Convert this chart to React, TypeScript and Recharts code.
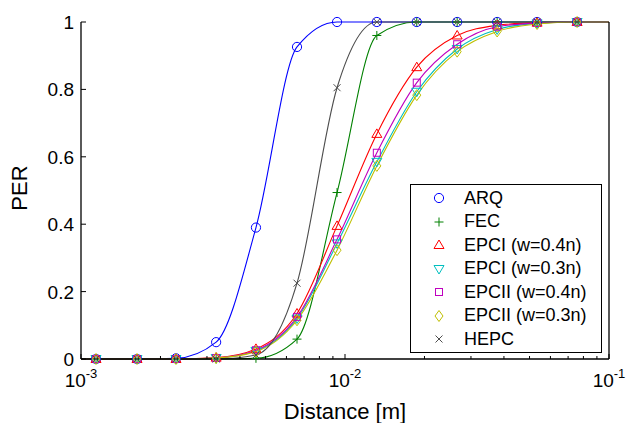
import { LineChart, Line, XAxis, YAxis } from 'recharts';

// distance [m]; first and last entries are where the fitted curves meet the axes (no marker there)
const distance = [0.001, 0.00114, 0.00163, 0.00229, 0.00325, 0.0046, 0.00658, 0.00933, 0.0132, 0.0187, 0.0266, 0.0377, 0.0534, 0.0757, 0.1];

const arq = [0, 0, 0, 0.002, 0.05, 0.39, 0.926, 1, 1, 1, 1, 1, 1, 1, 1];
const fec = [0, 0, 0, 0, 0, 0.002, 0.059, 0.494, 0.96, 1, 1, 1, 1, 1, 1];
const epci4 = [0, 0, 0, 0, 0.004, 0.03, 0.135, 0.395, 0.668, 0.866, 0.96, 0.99, 0.998, 1, 1];
const epci3 = [0, 0, 0, 0, 0.003, 0.024, 0.12, 0.343, 0.585, 0.793, 0.92, 0.978, 0.996, 1, 1];
const epcii4 = [0, 0, 0, 0, 0.003, 0.026, 0.125, 0.355, 0.612, 0.82, 0.934, 0.986, 0.997, 1, 1];
const epcii3 = [0, 0, 0, 0, 0.003, 0.022, 0.115, 0.323, 0.573, 0.783, 0.912, 0.972, 0.994, 1, 1];
const hepc = [0, 0, 0, 0, 0, 0.012, 0.225, 0.805, 1, 1, 1, 1, 1, 1, 1];

const xTicks = [
  0.001, 0.002, 0.003, 0.004, 0.005, 0.006, 0.007, 0.008, 0.009,
  0.01, 0.02, 0.03, 0.04, 0.05, 0.06, 0.07, 0.08, 0.09, 0.1,
];
const xMajor = [0.001, 0.01, 0.1];
const xMajorExp = ['-3', '-2', '-1'];
const yTicks = [0, 0.2, 0.4, 0.6, 0.8, 1];

type Shape = 'circle' | 'plus' | 'up' | 'down' | 'square' | 'diamond' | 'x';

const SERIES: { key: string; name: string; color: string; shape: Shape; values: number[] }[] = [
  { key: 'arq', name: 'ARQ', color: '#0000ff', shape: 'circle', values: arq },
  { key: 'fec', name: 'FEC', color: '#008000', shape: 'plus', values: fec },
  { key: 'epci4', name: 'EPCI (w=0.4n)', color: '#ff0000', shape: 'up', values: epci4 },
  { key: 'epci3', name: 'EPCI (w=0.3n)', color: '#00bfbf', shape: 'down', values: epci3 },
  { key: 'epcii4', name: 'EPCII (w=0.4n)', color: '#bf00bf', shape: 'square', values: epcii4 },
  { key: 'epcii3', name: 'EPCII (w=0.3n)', color: '#bfbf00', shape: 'diamond', values: epcii3 },
  { key: 'hepc', name: 'HEPC', color: '#4d4d4d', shape: 'x', values: hepc },
];

const data = distance.map((d, i) => {
  const row: Record<string, number> = { d };
  SERIES.forEach((s) => (row[s.key] = s.values[i]));
  return row;
});

const FONT = '"Liberation Sans", Arial, sans-serif';

function Marker({ shape, cx, cy, color }: { shape: Shape; cx: number; cy: number; color: string }) {
  const common = { fill: 'none', stroke: color, strokeWidth: 1 };
  switch (shape) {
    case 'circle':
      return <circle cx={cx} cy={cy} r={4.6} {...common} />;
    case 'plus':
      return <path d={`M${cx - 4.5},${cy}H${cx + 4.5}M${cx},${cy - 4.5}V${cy + 4.5}`} {...common} />;
    case 'up':
      return <path d={`M${cx},${cy - 5}L${cx + 5},${cy + 3.5}L${cx - 5},${cy + 3.5}Z`} {...common} />;
    case 'down':
      return <path d={`M${cx},${cy + 5}L${cx + 5},${cy - 3.5}L${cx - 5},${cy - 3.5}Z`} {...common} />;
    case 'square':
      return <rect x={cx - 3.5} y={cy - 3.5} width={7} height={7} {...common} />;
    case 'diamond':
      return <path d={`M${cx},${cy - 5.5}L${cx + 4},${cy}L${cx},${cy + 5.5}L${cx - 4},${cy}Z`} {...common} />;
    default:
      return <path d={`M${cx - 3.5},${cy - 3.5}L${cx + 3.5},${cy + 3.5}M${cx - 3.5},${cy + 3.5}L${cx + 3.5},${cy - 3.5}`} {...common} />;
  }
}

const isMajor = (v: number) => xMajor.some((m) => Math.abs(m - v) / m < 1e-6);

function BottomTick(props: any) {
  const { x, y, payload } = props;
  const v = payload.value;
  const idx = xMajor.findIndex((m) => Math.abs(m - v) / m < 1e-6);
  const len = idx >= 0 ? 5 : 3;
  return (
    <g>
      <line x1={x} y1={y} x2={x} y2={y - len} stroke="#000" strokeWidth={1} />
      {idx >= 0 && (
        <text x={x} y={y + 28} textAnchor="middle" fontFamily={FONT} fontSize={19} fill="#000">
          <tspan>10</tspan>
          <tspan dy={-9} fontSize={13}>{xMajorExp[idx]}</tspan>
        </text>
      )}
    </g>
  );
}

function TopTick(props: any) {
  const { x, y, payload } = props;
  const len = isMajor(payload.value) ? 5 : 3;
  return <line x1={x} y1={y} x2={x} y2={y + len} stroke="#000" strokeWidth={1} />;
}

function LeftTick(props: any) {
  const { x, y, payload } = props;
  return (
    <g>
      <line x1={x} y1={y} x2={x + 5} y2={y} stroke="#000" strokeWidth={1} />
      <text x={x - 7} y={y + 7} textAnchor="end" fontFamily={FONT} fontSize={19} fill="#000">
        {String(payload.value)}
      </text>
    </g>
  );
}

function RightTick(props: any) {
  const { x, y } = props;
  return <line x1={x} y1={y} x2={x - 5} y2={y} stroke="#000" strokeWidth={1} />;
}

function ChartLegend() {
  return (
    <div
      style={{
        position: 'absolute',
        left: 410,
        top: 184,
        width: 192,
        height: 169,
        boxSizing: 'border-box',
        border: '1.3px solid #000',
        background: '#fff',
        paddingTop: 1.5,
        fontFamily: FONT,
        fontSize: 18,
        color: '#000',
      }}
    >
      {SERIES.map((s) => (
        <div key={s.key} style={{ height: 23.5, display: 'flex', alignItems: 'center' }}>
          <svg width={14} height={14} style={{ marginLeft: 21, marginRight: 18 }}>
            <Marker shape={s.shape} cx={7} cy={7} color={s.color} />
          </svg>
          <span style={{ whiteSpace: 'nowrap' }}>{s.name}</span>
        </div>
      ))}
    </div>
  );
}

export default function App() {
  return (
    <div style={{ position: 'absolute', left: 0, top: 0, width: 627, height: 423, background: '#fff' }}>
      <LineChart width={627} height={423} data={data} margin={{ top: 22, right: 0, bottom: 0, left: 0 }}>
        <XAxis
          dataKey="d"
          type="number"
          scale="log"
          domain={[0.001, 0.1]}
          ticks={xTicks}
          interval={0}
          height={64}
          tickSize={0}
          tickMargin={0}
          tickLine={false}
          tick={BottomTick}
          axisLine={{ stroke: '#000', strokeWidth: 1.3 }}
          label={{
            content: () => (
              <text x={345} y={419} textAnchor="middle" fontFamily={FONT} fontSize={22} fill="#000">
                Distance [m]
              </text>
            ),
          }}
        />
        <XAxis
          xAxisId="top"
          orientation="top"
          dataKey="d"
          type="number"
          scale="log"
          domain={[0.001, 0.1]}
          ticks={xTicks}
          interval={0}
          height={0}
          tickSize={0}
          tickMargin={0}
          tickLine={false}
          tick={TopTick}
          axisLine={{ stroke: '#000', strokeWidth: 1.3 }}
        />
        <YAxis
          type="number"
          domain={[0, 1]}
          ticks={yTicks}
          interval={0}
          width={81}
          tickSize={0}
          tickMargin={0}
          tickLine={false}
          tick={LeftTick}
          axisLine={{ stroke: '#000', strokeWidth: 1.3 }}
          label={{
            content: () => (
              <text
                x={27}
                y={188}
                transform="rotate(-90 27 188)"
                textAnchor="middle"
                fontFamily={FONT}
                fontSize={22}
                fill="#000"
              >
                PER
              </text>
            ),
          }}
        />
        <YAxis
          yAxisId="right"
          orientation="right"
          type="number"
          domain={[0, 1]}
          ticks={yTicks}
          interval={0}
          width={18}
          tickSize={0}
          tickMargin={0}
          tickLine={false}
          tick={RightTick}
          axisLine={{ stroke: '#000', strokeWidth: 1.3 }}
        />
        {SERIES.map((s) => (
          <Line
            key={s.key}
            dataKey={s.key}
            name={s.name}
            type="monotone"
            stroke={s.color}
            strokeWidth={1.1}
            isAnimationActive={false}
            activeDot={false}
            dot={(p: any) =>
              p.index === 0 || p.index === distance.length - 1 ? (
                <g key={`dot-${s.key}-${p.index}`} />
              ) : (
                <Marker key={`dot-${s.key}-${p.index}`} shape={s.shape} cx={p.cx} cy={p.cy} color={s.color} />
              )
            }
          />
        ))}
      </LineChart>
      <ChartLegend />
    </div>
  );
}
